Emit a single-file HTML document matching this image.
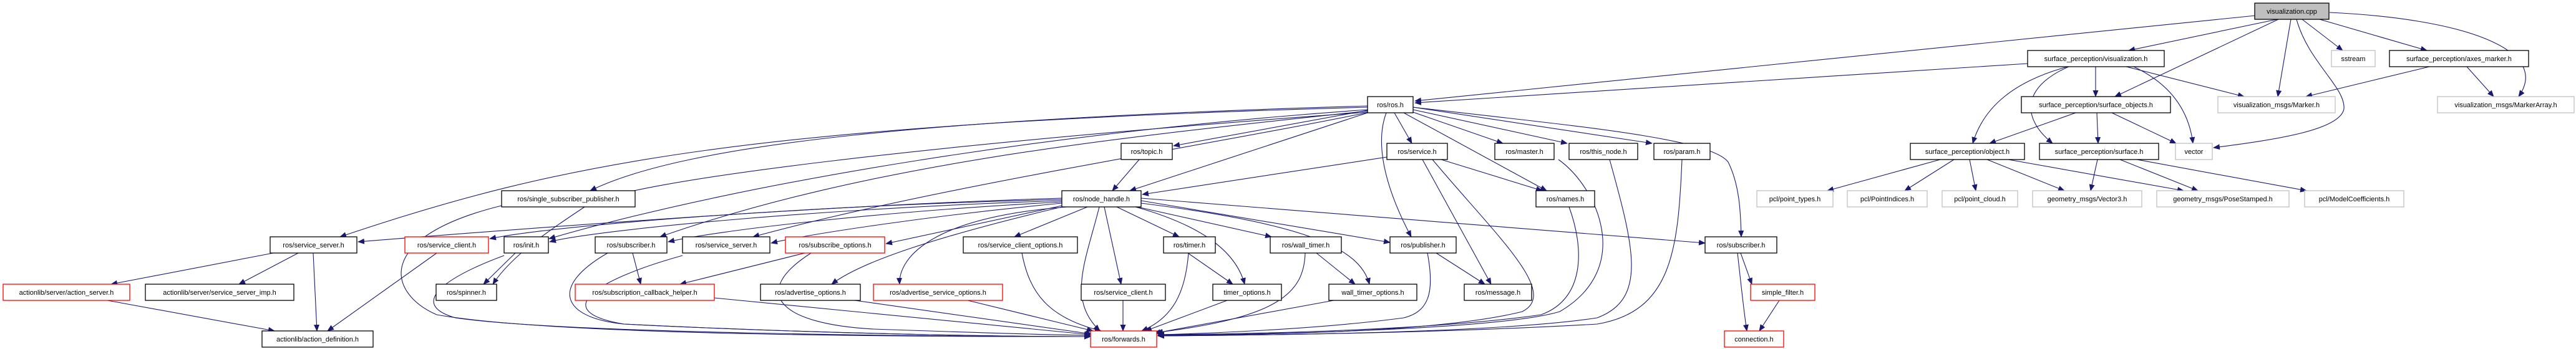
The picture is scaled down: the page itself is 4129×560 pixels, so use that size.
<!DOCTYPE html>
<html><head><meta charset="utf-8"><style>
html,body{margin:0;padding:0;background:#fff;}
svg{display:block;}
text{font-family:"Liberation Sans",Arial,sans-serif;font-size:11px;fill:#000;}
.n rect{fill:#fff;stroke:#000;stroke-width:1.3;}
.r rect{fill:#fff;stroke:#f00;stroke-width:1.3;}
.g rect{fill:#fff;stroke:#bfbfbf;stroke-width:1.3;}
.e path{fill:none;stroke:#191970;stroke-width:1.1;marker-end:url(#a);}
</style></head><body>
<svg width="4129" height="560" viewBox="0 0 4129 560" xmlns="http://www.w3.org/2000/svg">
<defs><marker id="a" markerUnits="userSpaceOnUse" markerWidth="11" markerHeight="9" refX="10" refY="4.5" orient="auto"><path d="M0,0 L11,4.5 L0,9 z" fill="#191970"/></marker></defs>
<g class="e">
<path d="M3615 25 L2268 162"/>
<path d="M3650 31 L3412 81"/>
<path d="M3652 31 L3390 155"/>
<path d="M3672 31 L3651 155"/>
<path d="M3681 31 C3700 100 3760 140 3757 175 C3750 210 3640 225 3548 237"/>
<path d="M3690 31 L3755 81"/>
<path d="M3718 31 L3890 81"/>
<path d="M3734 20 C3950 30 4090 80 4037 155"/>
<path d="M3250 102 L2268 165"/>
<path d="M3359 107 L3359 155"/>
<path d="M3314 107 C3230 130 3180 170 3162 230"/>
<path d="M3316 107 C3240 140 3240 190 3290 230"/>
<path d="M3408 107 L3597 155"/>
<path d="M3420 107 C3490 140 3510 190 3515 230"/>
<path d="M3894 107 L3696 155"/>
<path d="M3954 107 L3997 155"/>
<path d="M3327 181 L3189 230"/>
<path d="M3361 181 L3363 230"/>
<path d="M3385 181 L3488 230"/>
<path d="M3110 256 L2929 306"/>
<path d="M3132 256 L3053 306"/>
<path d="M3157 256 L3167 306"/>
<path d="M3185 256 L3309 306"/>
<path d="M3219 256 L3500 306"/>
<path d="M3362 256 L3351 306"/>
<path d="M3398 256 L3523 306"/>
<path d="M3425 256 L3697 306"/>
<path d="M2192 170 C1500 190 1100 230 946 306"/>
<path d="M2192 172 C1200 200 900 260 545 380"/>
<path d="M2192 176 C1700 210 1200 290 880 383"/>
<path d="M2192 178 C1800 220 1400 260 1058 380"/>
<path d="M2195 180 C1900 240 1500 300 1207 380"/>
<path d="M2192 180 C1500 230 1000 290 940 330 C880 370 820 410 790 456"/>
<path d="M2192 177 L1881 234"/>
<path d="M2192 181 L1811 306"/>
<path d="M2235 181 L2263 230"/>
<path d="M2265 180 L2409 230"/>
<path d="M2265 176 L2512 230"/>
<path d="M2265 172 L2648 230"/>
<path d="M2250 181 L2479 306"/>
<path d="M2222 181 C2200 240 2230 320 2262 380"/>
<path d="M2265 172 C2500 200 2740 220 2770 260 C2790 300 2790 350 2791 380"/>
<path d="M1826 256 L1783 306"/>
<path d="M2223 252 L1831 312"/>
<path d="M2310 256 L2472 306"/>
<path d="M2280 256 L2390 456"/>
<path d="M2296 256 C2400 380 2500 470 2440 500 C2300 535 2000 537 1856 538"/>
<path d="M2498 256 C2560 300 2620 430 2500 500 C2400 530 2000 537 1856 538"/>
<path d="M2580 256 C2620 400 2640 480 2560 510 C2400 535 2000 538 1856 539"/>
<path d="M2696 256 C2690 400 2680 500 2560 520 C2300 535 2000 538 1856 539"/>
<path d="M2515 332 C2540 400 2540 480 2470 505 C2300 530 2000 536 1856 537"/>
<path d="M1702 318 C1300 330 800 370 574 388"/>
<path d="M1702 320 C1300 330 900 360 785 383"/>
<path d="M1702 322 C1300 335 950 370 881 388"/>
<path d="M1702 324 C1400 340 1150 370 1071 388"/>
<path d="M1702 326 C1500 345 1300 375 1236 390"/>
<path d="M1702 330 C1560 360 1450 385 1420 391"/>
<path d="M1702 332 C1500 380 1380 420 1333 456"/>
<path d="M1710 332 C1480 350 1440 420 1442 456"/>
<path d="M1743 332 L1626 380"/>
<path d="M1770 332 L1797 456"/>
<path d="M1762 332 C1740 420 1710 480 1763 531"/>
<path d="M1790 332 L1890 380"/>
<path d="M1820 332 C1920 360 1980 400 1995 456"/>
<path d="M1823 332 L2038 380"/>
<path d="M1829 326 C2100 360 2180 400 2195 456"/>
<path d="M1829 322 L2228 389"/>
<path d="M1829 318 L2733 390"/>
<path d="M438 406 L178 456"/>
<path d="M478 406 L383 456"/>
<path d="M502 406 L508 531"/>
<path d="M700 406 L525 531"/>
<path d="M826 406 L775 456"/>
<path d="M808 410 C700 450 660 490 730 510 C900 535 1500 540 1748 540"/>
<path d="M1014 406 L1027 456"/>
<path d="M974 406 C880 460 900 510 1000 520 C1300 535 1600 540 1748 540"/>
<path d="M1094 410 C950 450 880 500 1000 520 C1300 535 1600 540 1748 540"/>
<path d="M1290 406 L1090 456"/>
<path d="M1300 406 C1200 470 1250 520 1400 528 C1600 535 1700 538 1748 538"/>
<path d="M804 330 C600 380 620 470 700 505 C900 540 1500 540 1748 540"/>
<path d="M1638 406 C1650 470 1680 510 1765 531"/>
<path d="M1904 406 L1976 456"/>
<path d="M1905 406 C1900 470 1880 510 1830 531"/>
<path d="M2110 406 L2172 456"/>
<path d="M2092 406 C2090 470 2050 510 1850 534"/>
<path d="M2302 406 L2380 456"/>
<path d="M2288 406 C2300 470 2290 500 2250 510 C2100 530 1900 536 1856 537"/>
<path d="M2790 406 L2808 456"/>
<path d="M2785 406 C2790 450 2795 500 2800 531"/>
<path d="M172 482 L440 531"/>
<path d="M1145 478 L1748 537"/>
<path d="M1370 482 L1750 536"/>
<path d="M1551 482 L1752 531"/>
<path d="M1800 482 L1800 531"/>
<path d="M1967 482 L1836 531"/>
<path d="M2138 482 L1854 534"/>
<path d="M2852 482 L2820 531"/>
</g>

<g><rect x="3614" y="5" width="119" height="26" fill="#bfbfbf" stroke="#000" stroke-width="1.3"/><text x="3673.5" y="22" text-anchor="middle">visualization.cpp</text></g>

<g class="n"><rect x="3250" y="81" width="219" height="26"/><text x="3359.5" y="98" text-anchor="middle">surface_perception/visualization.h</text></g>
<g class="g"><rect x="3737" y="81" width="70" height="26"/><text x="3772" y="98" text-anchor="middle">sstream</text></g>
<g class="n"><rect x="3830" y="81" width="223" height="26"/><text x="3941.5" y="98" text-anchor="middle">surface_perception/axes_marker.h</text></g>

<g class="n"><rect x="2192" y="155" width="73" height="26"/><text x="2228.5" y="172" text-anchor="middle">ros/ros.h</text></g>
<g class="n"><rect x="3240" y="155" width="239" height="26"/><text x="3359.5" y="172" text-anchor="middle">surface_perception/surface_objects.h</text></g>
<g class="g"><rect x="3555" y="155" width="188" height="26"/><text x="3649" y="172" text-anchor="middle">visualization_msgs/Marker.h</text></g>
<g class="g"><rect x="3907" y="155" width="219" height="26"/><text x="4016.5" y="172" text-anchor="middle">visualization_msgs/MarkerArray.h</text></g>

<g class="n"><rect x="1797" y="230" width="82" height="26"/><text x="1838" y="247" text-anchor="middle">ros/topic.h</text></g>
<g class="n"><rect x="2223" y="230" width="97" height="26"/><text x="2271.5" y="247" text-anchor="middle">ros/service.h</text></g>
<g class="n"><rect x="2396" y="230" width="95" height="26"/><text x="2443.5" y="247" text-anchor="middle">ros/master.h</text></g>
<g class="n"><rect x="2515" y="230" width="110" height="26"/><text x="2570" y="247" text-anchor="middle">ros/this_node.h</text></g>
<g class="n"><rect x="2651" y="230" width="90" height="26"/><text x="2696" y="247" text-anchor="middle">ros/param.h</text></g>
<g class="n"><rect x="3062" y="230" width="183" height="26"/><text x="3153.5" y="247" text-anchor="middle">surface_perception/object.h</text></g>
<g class="n"><rect x="3269" y="230" width="191" height="26"/><text x="3364.5" y="247" text-anchor="middle">surface_perception/surface.h</text></g>
<g class="g"><rect x="3487" y="230" width="59" height="26"/><text x="3516.5" y="247" text-anchor="middle">vector</text></g>

<g class="n"><rect x="804" y="306" width="214" height="26"/><text x="911" y="323" text-anchor="middle">ros/single_subscriber_publisher.h</text></g>
<g class="n"><rect x="1702" y="306" width="127" height="26"/><text x="1765.5" y="323" text-anchor="middle">ros/node_handle.h</text></g>
<g class="n"><rect x="2462" y="306" width="94" height="26"/><text x="2509" y="323" text-anchor="middle">ros/names.h</text></g>
<g class="g"><rect x="2816" y="306" width="122" height="26"/><text x="2877" y="323" text-anchor="middle">pcl/point_types.h</text></g>
<g class="g"><rect x="2961" y="306" width="128" height="26"/><text x="3025" y="323" text-anchor="middle">pcl/PointIndices.h</text></g>
<g class="g"><rect x="3113" y="306" width="121" height="26"/><text x="3173.5" y="323" text-anchor="middle">pcl/point_cloud.h</text></g>
<g class="g"><rect x="3258" y="306" width="175" height="26"/><text x="3345.5" y="323" text-anchor="middle">geometry_msgs/Vector3.h</text></g>
<g class="g"><rect x="3457" y="306" width="212" height="26"/><text x="3563" y="323" text-anchor="middle">geometry_msgs/PoseStamped.h</text></g>
<g class="g"><rect x="3694" y="306" width="159" height="26"/><text x="3773.5" y="323" text-anchor="middle">pcl/ModelCoefficients.h</text></g>

<g class="n"><rect x="433" y="380" width="139" height="26"/><text x="502.5" y="397" text-anchor="middle">ros/service_server.h</text></g>
<g class="r"><rect x="649" y="380" width="134" height="26"/><text x="716" y="397" text-anchor="middle">ros/service_client.h</text></g>
<g class="n"><rect x="808" y="380" width="71" height="26"/><text x="843.5" y="397" text-anchor="middle">ros/init.h</text></g>
<g class="n"><rect x="954" y="380" width="115" height="26"/><text x="1011.5" y="397" text-anchor="middle">ros/subscriber.h</text></g>
<g class="n"><rect x="1094" y="380" width="140" height="26"/><text x="1164" y="397" text-anchor="middle">ros/service_server.h</text></g>
<g class="r"><rect x="1259" y="380" width="159" height="26"/><text x="1338.5" y="397" text-anchor="middle">ros/subscribe_options.h</text></g>
<g class="n"><rect x="1544" y="380" width="183" height="26"/><text x="1635.5" y="397" text-anchor="middle">ros/service_client_options.h</text></g>
<g class="n"><rect x="1865" y="380" width="83" height="26"/><text x="1906.5" y="397" text-anchor="middle">ros/timer.h</text></g>
<g class="n"><rect x="2036" y="380" width="114" height="26"/><text x="2093" y="397" text-anchor="middle">ros/wall_timer.h</text></g>
<g class="n"><rect x="2228" y="380" width="106" height="26"/><text x="2281" y="397" text-anchor="middle">ros/publisher.h</text></g>
<g class="n"><rect x="2733" y="380" width="115" height="26"/><text x="2790.5" y="397" text-anchor="middle">ros/subscriber.h</text></g>

<g class="r"><rect x="5" y="456" width="203" height="26"/><text x="106.5" y="473" text-anchor="middle">actionlib/server/action_server.h</text></g>
<g class="n"><rect x="233" y="456" width="238" height="26"/><text x="352" y="473" text-anchor="middle">actionlib/server/service_server_imp.h</text></g>
<g class="n"><rect x="699" y="456" width="97" height="26"/><text x="747.5" y="473" text-anchor="middle">ros/spinner.h</text></g>
<g class="r"><rect x="922" y="456" width="223" height="26"/><text x="1033.5" y="473" text-anchor="middle">ros/subscription_callback_helper.h</text></g>
<g class="n"><rect x="1219" y="456" width="160" height="26"/><text x="1299" y="473" text-anchor="middle">ros/advertise_options.h</text></g>
<g class="r"><rect x="1400" y="456" width="207" height="26"/><text x="1503.5" y="473" text-anchor="middle">ros/advertise_service_options.h</text></g>
<g class="n"><rect x="1733" y="456" width="135" height="26"/><text x="1800.5" y="473" text-anchor="middle">ros/service_client.h</text></g>
<g class="n"><rect x="1944" y="456" width="110" height="26"/><text x="1999" y="473" text-anchor="middle">timer_options.h</text></g>
<g class="n"><rect x="2130" y="456" width="141" height="26"/><text x="2200.5" y="473" text-anchor="middle">wall_timer_options.h</text></g>
<g class="n"><rect x="2347" y="456" width="108" height="26"/><text x="2401" y="473" text-anchor="middle">ros/message.h</text></g>
<g class="r"><rect x="2806" y="456" width="103" height="26"/><text x="2857.5" y="473" text-anchor="middle">simple_filter.h</text></g>

<g class="n"><rect x="420" y="531" width="178" height="26"/><text x="509" y="548" text-anchor="middle">actionlib/action_definition.h</text></g>
<g class="r"><rect x="1748" y="531" width="106" height="26"/><text x="1801" y="548" text-anchor="middle">ros/forwards.h</text></g>
<g class="r"><rect x="2764" y="531" width="95" height="26"/><text x="2811.5" y="548" text-anchor="middle">connection.h</text></g>
</svg>
</body></html>
